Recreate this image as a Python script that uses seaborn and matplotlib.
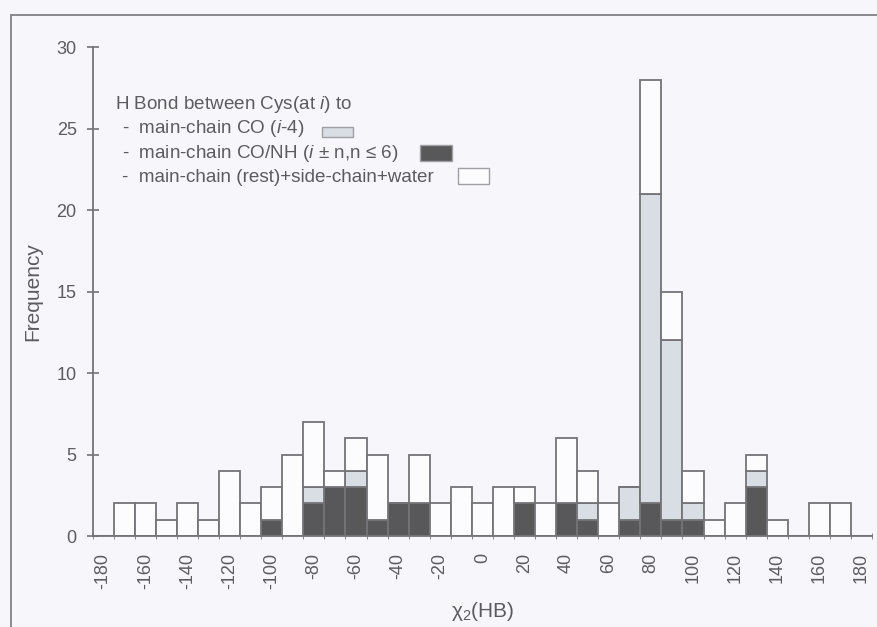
import numpy as np
import pandas as pd
import matplotlib
matplotlib.use("Agg")
import matplotlib.pyplot as plt
from matplotlib.patches import Rectangle
from matplotlib.ticker import MultipleLocator
import seaborn as sns

# chi2(HB) bin centres, one per 10 degrees
angles = list(range(-180, 190, 10))

# main-chain CO/NH (i +- n, n <= 6)
dark = [0, 0, 0, 0, 0, 0, 0, 0, 1, 0, 2, 3, 3, 1, 2, 2, 0, 0, 0,
        0, 2, 0, 2, 1, 0, 1, 2, 1, 1, 0, 0, 3, 0, 0, 0, 0, 0]
# main-chain CO (i-4)
light = [0, 0, 0, 0, 0, 0, 0, 0, 0, 0, 1, 0, 1, 0, 0, 0, 0, 0, 0,
         0, 0, 0, 0, 1, 0, 2, 19, 11, 1, 0, 0, 1, 0, 0, 0, 0, 0]
# main-chain (rest) + side-chain + water
rest = [0, 2, 2, 1, 2, 1, 4, 2, 2, 5, 4, 1, 2, 4, 0, 3, 2, 3, 2,
        3, 1, 2, 4, 2, 2, 0, 7, 3, 2, 1, 2, 1, 1, 0, 2, 2, 0]

groups = ["rest", "light", "dark"]
colors = {"rest": "#fcfcff", "light": "#d9dde4", "dark": "#58585a"}

df = pd.concat([
    pd.DataFrame({"angle": angles, "count": rest, "group": "rest"}),
    pd.DataFrame({"angle": angles, "count": light, "group": "light"}),
    pd.DataFrame({"angle": angles, "count": dark, "group": "dark"}),
], ignore_index=True)

sns.set_style("ticks")
plt.rcParams["font.family"] = ["Liberation Sans", "DejaVu Sans"]
plt.rcParams["mathtext.fontset"] = "custom"
plt.rcParams["mathtext.rm"] = "Liberation Sans"
plt.rcParams["mathtext.it"] = "Liberation Sans:italic"

bg = "#f6f6fb"
line_col = "#747478"
text_col = "#5c5c60"

fig = plt.figure(figsize=(8.77, 6.27), dpi=100, facecolor=bg)
ax = fig.add_axes([0.1057, 0.1451, 0.8886, 0.7799])
ax.set_facecolor(bg)

edges = np.arange(-185, 190, 10)
sns.histplot(data=df, x="angle", weights="count", hue="group", hue_order=groups,
             multiple="stack", binwidth=10, binrange=(-185, 185), palette=colors,
             alpha=1, edgecolor=line_col, linewidth=1.3, legend=False, ax=ax)

ax.set_xlim(-185, 185)
ax.set_ylim(0, 30)
ax.yaxis.set_major_locator(MultipleLocator(5))
ax.set_xticks(np.arange(-180, 181, 20))
ax.set_xticklabels([str(v) for v in range(-180, 181, 20)], rotation=90)
ax.set_xticks(edges, minor=True)
ax.tick_params(axis="x", which="major", length=0, pad=12, labelsize=13, colors=text_col)
ax.tick_params(axis="x", which="minor", length=5, direction="inout", color=line_col)
ax.tick_params(axis="y", length=9, direction="inout", width=1.2, color=line_col,
               labelsize=13, labelcolor=text_col, pad=7)

for side in ["top", "right"]:
    ax.spines[side].set_visible(False)
for side in ["left", "bottom"]:
    ax.spines[side].set_color(line_col)
    ax.spines[side].set_linewidth(1.3)

ax.set_ylabel("Frequency", fontsize=15, color=text_col, labelpad=10)
ax.set_xlabel("χ$_2$(HB)", fontsize=15, color=text_col, labelpad=8)

# legend drawn as text block with swatches
fs = 13.6
ax.text(0.0286, 0.883, "H Bond between Cys(at $\\mathit{i}$) to", transform=ax.transAxes,
        fontsize=fs, color=text_col, va="center")
legend_lines = [
    ("-  main-chain CO ($\\mathit{i}$-4)", 0.834, "light", 0.294, 0.816, 0.040, 0.020),
    ("-  main-chain CO/NH ($\\mathit{i}$ ± n,n ≤ 6)", 0.783, "dark", 0.420, 0.767, 0.041, 0.032),
    ("-  main-chain (rest)+side-chain+water", 0.734, "rest", 0.469, 0.719, 0.040, 0.034),
]
for label, y, key, sx, sy, sw, sh in legend_lines:
    ax.text(0.037, y, label, transform=ax.transAxes, fontsize=fs, color=text_col, va="center")
    ax.add_patch(Rectangle((sx, sy), sw, sh, transform=ax.transAxes, facecolor=colors[key],
                           edgecolor="#a0a0a4", linewidth=1.0, clip_on=False))

# scanned page frame
fig.patches.append(Rectangle((0.0125, -0.05), 1.1, 1.026, transform=fig.transFigure,
                             fill=False, edgecolor="#8a8a8e", linewidth=1.4))

fig.savefig("out.png", dpi=100, facecolor=bg)
